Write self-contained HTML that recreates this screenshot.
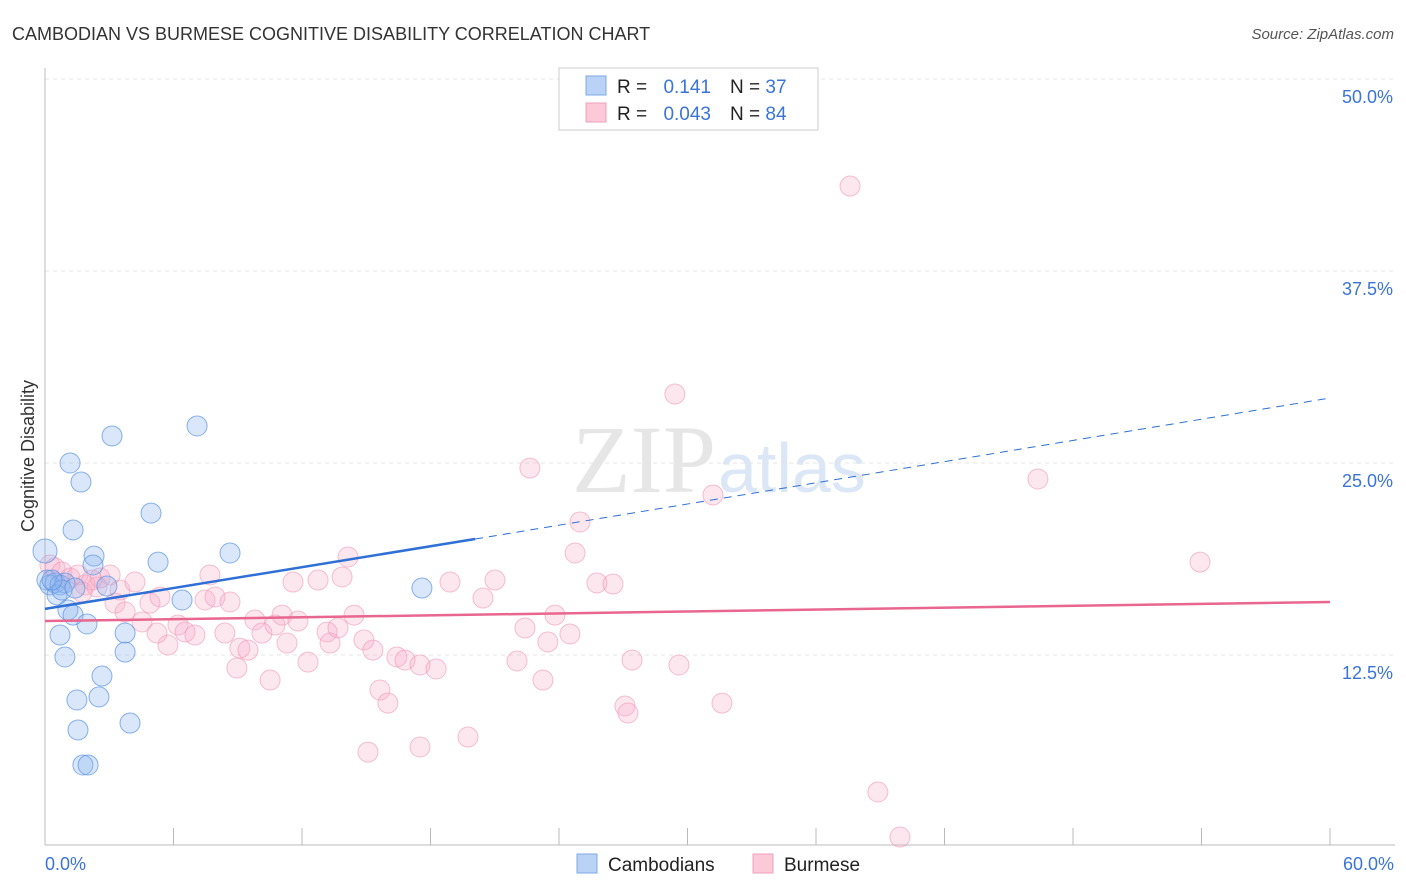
<!DOCTYPE html>
<html><head><meta charset="utf-8"><style>
body{margin:0;background:#fff;font-family:"Liberation Sans",sans-serif;}
#wrap{position:relative;width:1406px;height:892px;overflow:hidden}
</style></head><body>
<div id="wrap">
<svg id="chart" width="1406" height="892" style="position:absolute;left:0;top:0">
<text x="12" y="40" font-size="18" fill="#333">CAMBODIAN VS BURMESE COGNITIVE DISABILITY CORRELATION CHART</text>
<text x="1394" y="39" font-size="15" fill="#555" font-style="italic" text-anchor="end">Source: ZipAtlas.com</text>
<text transform="translate(34,456) rotate(-90)" font-size="18" fill="#333" text-anchor="middle">Cognitive Disability</text>
<text x="716" y="492" font-size="96" fill="#e6e6e6" font-family="Liberation Serif" text-anchor="end">ZIP</text>
<text x="718" y="492" font-size="70" fill="#dbe7f7">atlas</text>
<g id="grid"></g><g id="axes"></g><g id="pts"></g><g id="trend"></g>
<g>
<rect x="559" y="68" width="259" height="62" fill="#fff" stroke="#ccc"/>
<rect x="586" y="76" width="20" height="19" fill="#b9d2f5" stroke="#7fa8e6"/>
<rect x="586" y="103" width="20" height="19" fill="#fbc9d8" stroke="#f0a0bb"/>
<text x="617" y="93" font-size="19" fill="#222">R =</text>
<text x="711" y="93" font-size="19" fill="#3a74d8" text-anchor="end">0.141</text>
<text x="730" y="93" font-size="19" fill="#222">N = <tspan fill="#3a74d8">37</tspan></text>
<text x="617" y="120" font-size="19" fill="#222">R =</text>
<text x="711" y="120" font-size="19" fill="#3a74d8" text-anchor="end">0.043</text>
<text x="730" y="120" font-size="19" fill="#222">N = <tspan fill="#3a74d8">84</tspan></text>
</g>
<g>
<rect x="577" y="854" width="20" height="19" fill="#b9d2f5" stroke="#7fa8e6"/>
<text x="608" y="871" font-size="19" fill="#222">Cambodians</text>
<rect x="753" y="854" width="20" height="19" fill="#fbc9d8" stroke="#f0a0bb"/>
<text x="784" y="871" font-size="19" fill="#222">Burmese</text>
</g>
</svg>
</div>
<script>
const blueX=[0,0.09,0.23,0.47,0.70,0.93,0.56,0.79,1.17,1.68,1.31,2.29,2.24,1.07,1.31,0.70,1.96,0.93,2.66,1.49,2.52,1.54,3.97,1.77,2.01,3.13,4.95,7.10,5.28,8.64,2.89,3.74,3.74,6.40,17.60,0.33,1.40];
const blueY=[19.27,17.38,17.06,17.19,17.06,17.19,16.41,16.73,25.0,23.76,20.64,18.94,18.36,15.43,15.10,13.80,14.52,12.37,11.13,9.57,9.77,7.62,8.07,5.34,5.34,26.76,21.74,27.41,18.55,19.14,16.99,13.93,12.69,16.08,16.86,17.38,16.86];
const pinkX=[0.23,0.47,0.79,1.17,1.54,1.87,2.19,2.57,3.04,1.73,2.43,3.50,4.20,3.27,3.74,4.90,4.53,5.37,5.74,5.23,6.21,6.54,7.00,7.70,7.47,7.94,8.64,8.40,9.10,9.48,8.96,9.80,10.13,10.51,10.74,11.07,11.58,11.81,11.30,12.28,12.75,13.17,13.31,13.68,13.87,14.15,14.43,14.89,15.31,15.64,16.01,16.43,16.81,17.51,18.26,17.51,15.08,18.91,19.75,20.45,21.01,22.04,22.41,22.64,23.48,23.25,23.81,24.51,24.75,24.98,25.77,26.52,27.08,27.22,27.41,29.41,29.60,31.19,31.61,37.59,38.89,39.92,46.36,53.93];
const pinkY=[18.36,18.16,17.90,17.51,17.71,17.06,17.38,17.51,17.71,16.60,16.93,16.73,17.25,15.88,15.30,15.88,14.65,16.28,13.15,13.93,14.45,14.00,13.80,17.71,16.08,16.28,15.95,13.93,12.95,12.82,11.65,14.78,13.93,10.87,14.45,15.10,17.25,14.71,13.28,12.04,17.38,14.00,13.28,14.26,17.58,18.88,15.10,13.48,12.82,10.22,9.37,12.37,12.17,11.85,11.59,6.51,6.18,17.25,7.16,16.21,17.38,12.11,14.26,24.67,13.35,10.87,15.10,13.87,19.14,21.16,17.19,17.12,9.18,8.72,12.17,29.49,11.85,22.92,9.37,43.03,3.58,0.65,23.96,18.55];
const yTicks=[12.5,25.0,37.5,50.0];
const xTicks=[0,6,12,18,24,30,36,42,48,54,60];
const blueTrend=[15.5,20.05,29.23]; // at x=0, x=solid end, x=60
const blueSolidEnd=20.08;
const pinkTrend=[14.71,15.95];
const NS='http://www.w3.org/2000/svg';
const sx=v=>45+v/60*1285, sy=v=>847-v/12.5*192;
function mk(t,a,p){const e=document.createElementNS(NS,t);for(const k in a)e.setAttribute(k,a[k]);p.appendChild(e);return e;}
const grid=document.getElementById('grid'),axes=document.getElementById('axes'),pts=document.getElementById('pts'),tr=document.getElementById('trend');
yTicks.forEach(v=>{
 const l=mk('line',{x1:45,x2:1395,y1:sy(v),y2:sy(v),stroke:'#e4e4e4','stroke-dasharray':'4,4'},grid);
 
 
 const t=mk('text',{x:1393,y:sy(v)+24,'font-size':18,fill:'#3a74d8','text-anchor':'end'},axes);
 t.textContent=v.toFixed(1)+'%';
 
 
});
const ax=mk('line',{x1:45,x2:1395,y1:845,y2:845,stroke:'#bbb'},axes);


const ay=mk('line',{x1:45,x2:45,y1:68,y2:845,stroke:'#bbb'},axes);


xTicks.forEach(v=>{
 const l=mk('line',{x1:sx(v),x2:sx(v),y1:828,y2:845,stroke:'#bbb'},axes);
 
 
});
const xl0=mk('text',{x:45,y:870,'font-size':18,fill:'#3a74d8'},axes);xl0.textContent='0.0%';


const xl1=mk('text',{x:1394,y:870,'font-size':18,fill:'#3a74d8','text-anchor':'end'},axes);xl1.textContent='60.0%';


pinkX.forEach((x,i)=>{
 const c=mk('circle',{cx:sx(x),cy:sy(pinkY[i]),r:10,fill:'rgba(248,170,196,0.28)',stroke:'rgba(238,150,180,0.6)','stroke-width':1},pts);
 
 
});
blueX.forEach((x,i)=>{
 const c=mk('circle',{cx:sx(x),cy:sy(blueY[i]),r:i==0?12:10,fill:'rgba(140,180,238,0.32)',stroke:'rgba(90,145,225,0.7)','stroke-width':1},pts);
 
 
});
const b1=mk('line',{x1:sx(0),y1:sy(blueTrend[0]),x2:sx(blueSolidEnd),y2:sy(blueTrend[1]),stroke:'#2f6fd6','stroke-width':2.5},tr);


const b2=mk('line',{x1:sx(blueSolidEnd),y1:sy(blueTrend[1]),x2:sx(60),y2:sy(blueTrend[2]),stroke:'#2f6fd6','stroke-width':1,'stroke-dasharray':'8,6'},tr);


const p1=mk('line',{x1:sx(0),y1:sy(pinkTrend[0]),x2:sx(60),y2:sy(pinkTrend[1]),stroke:'#e8668f','stroke-width':2.5},tr);


</script>
</body></html>
